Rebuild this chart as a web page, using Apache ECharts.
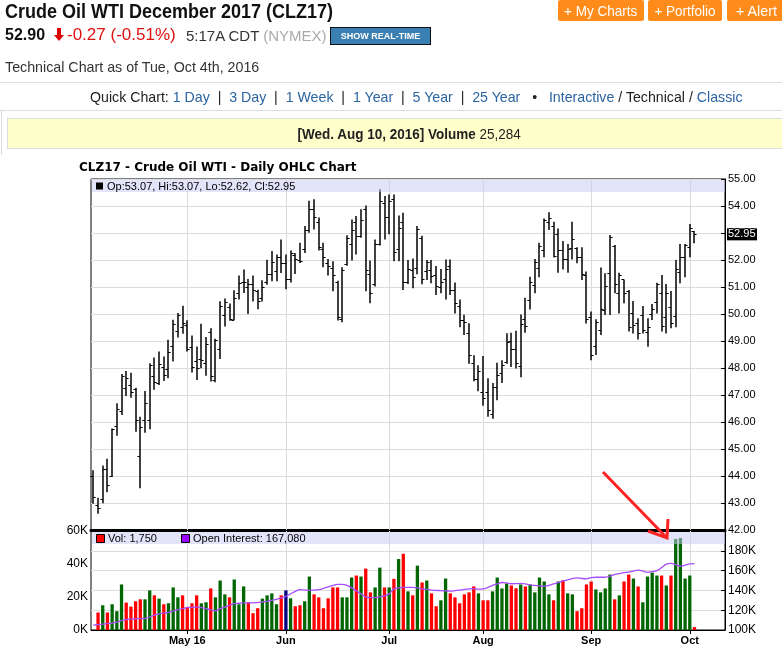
<!DOCTYPE html>
<html><head><meta charset="utf-8">
<script src="https://cdn.jsdelivr.net/npm/echarts@6/dist/echarts.min.js"></script>
<style>
html,body{margin:0;padding:0;width:782px;height:649px;overflow:hidden;background:#fff;}
#chart{position:absolute;left:0;top:0;width:782px;height:649px;z-index:1;}
.abs{position:absolute;white-space:nowrap;z-index:2;font-family:"Liberation Sans",Arial,sans-serif;}
.btn{position:absolute;top:0;height:21px;background:#ff8c1a;color:#fff;font-size:15px;line-height:21px;text-align:center;border-radius:2px;}
.sq{display:inline-block;transform-origin:center;}
a{color:#2a64a0;text-decoration:none;}
</style></head><body>
<div id="chart"></div>

<div class="abs" style="left:5px;top:0px;font-weight:bold;font-size:20px;color:#111;transform:scaleX(0.9);transform-origin:left;">Crude Oil WTI December 2017 (CLZ17)</div>
<div class="abs btn" style="left:558px;width:86px;"><span class="sq" style="transform:scaleX(0.9);">+ My Charts</span></div>
<div class="abs btn" style="left:648px;width:74px;"><span class="sq" style="transform:scaleX(0.9);">+ Portfolio</span></div>
<div class="abs btn" style="left:727px;width:58px;"><span class="sq" style="transform:scaleX(0.95);">+ Alert</span></div>

<div class="abs" style="left:5px;top:26px;font-weight:bold;font-size:16px;color:#111;">52.90</div>
<div class="abs" style="left:57px;top:28px;width:4px;height:7px;background:#d00;"></div>
<div class="abs" style="left:54px;top:35px;width:0;height:0;border-left:5px solid transparent;border-right:5px solid transparent;border-top:6px solid #d00;"></div>
<div class="abs" style="left:67px;top:25px;font-size:17px;color:#e01010;">-0.27 (-0.51%)</div>
<div class="abs" style="left:186px;top:27px;font-size:15px;color:#333;">5:17A CDT <span style="color:#aaa;">(NYMEX)</span> -</div>
<div class="abs" style="left:330px;top:27px;width:99px;height:16px;background:#3b80b3;border:1px solid #111;color:#fff;font-weight:bold;font-size:9px;line-height:16px;text-align:center;">SHOW REAL-TIME</div>

<div class="abs" style="left:5px;top:58px;font-size:15px;color:#333;transform:scaleX(0.95);transform-origin:left;">Technical Chart as of Tue, Oct 4th, 2016</div>
<div class="abs" style="left:0;top:82px;width:782px;height:1px;background:#ddd;"></div>
<div class="abs" style="left:90px;top:88px;font-size:15px;color:#222;transform:scaleX(0.945);transform-origin:left;">Quick Chart: <a>1 Day</a> &nbsp;|&nbsp; <a>3 Day</a> &nbsp;|&nbsp; <a>1 Week</a> &nbsp;|&nbsp; <a>1 Year</a> &nbsp;|&nbsp; <a>5 Year</a> &nbsp;|&nbsp; <a>25 Year</a> &nbsp; • &nbsp; <a>Interactive</a> / Technical / <a>Classic</a></div>
<div class="abs" style="left:0;top:110px;width:782px;height:1px;background:#ddd;"></div>
<div class="abs" style="left:1px;top:110px;width:1px;height:45px;background:#ddd;"></div>
<div class="abs" style="left:7px;top:118px;width:803px;height:29px;background:#ffffcc;border:1px solid #ddd;font-size:15px;line-height:29px;text-align:center;color:#222;"><span class="sq" style="transform:scaleX(0.9);"><b>[Wed. Aug 10, 2016] Volume</b> 25,284</span></div>

<script>
// ---------- categories (trading days) ----------
const aprDays = [4,5,6,7,8,11,12,13,14,15,18,19,20,21,22,25,26,27,28,29];
const mayDays = [2,3,4,5,6,9,10,11,12,13,16,17,18,19,20,23,24,25,26,27,31];
const junDays = [1,2,3,6,7,8,9,10,13,14,15,16,17,20,21,22,23,24,27,28,29,30];
const julDays = [1,5,6,7,8,11,12,13,14,15,18,19,20,21,22,25,26,27,28,29];
const augDays = [1,2,3,4,5,8,9,10,11,12,15,16,17,18,19,22,23,24,25,26,29,30,31];
const sepDays = [1,2,6,7,8,9,12,13,14,15,16,19,20,21,22,23,26,27,28,29,30];
const octDays = [3,4];
const monthNames = ['Apr','May','Jun','Jul','Aug','Sep','Oct'];
const padCount = 6;

// ---------- x tick labels ----------
const monthTickDates = ['May 2','Jun 1','Jul 1','Aug 1','Sep 1','Oct 3'];
const monthTickLabels = ['May 16','Jun','Jul','Aug','Sep','Oct'];

// ---------- price OHLC ----------
const opens = [44.01,42.93,43.15,44.25,43.99,45.85,46.40,47.27,47.37,47.22,44.75,46.09,46.06,47.72,47.46,48.03,47.97,48.80,49.38,49.52,49.61,48.77,48.27,48.34,48.18,49.33,47.55,48.71,49.98,50.26,49.79,50.78,51.18,
51.0,51.1,50.85,50.6,51.2,51.5,
51.6,52.1,51.9,51.3,52.2,52.0,52.4,53.1,53.9,53.4,
52.4,51.9,51.7,51.2,49.8,51.85,52.6,53.4,52.9,53.9,
51.5,51.1,52.6,54.12,53.6,54.25,52.4,53.42,51.2,51.63,
51.69,52.8,51.6,51.63,51.44,51.0,51.3,51.79,50.89,50.31,
49.79,49.31,48.2,47.6,47.12,47.12,46.3,47.3,47.8,48.22,
49.0,48.72,48.06,49.8,50.52,51.07,51.72,52.37,53.42,53.26,
52.96,52.37,52.02,52.45,52.43,52.12,51.44,49.9,48.8,49.41,
50.15,51.51,52.52,50.77,51.28,50.86,50.02,49.65,49.96,49.35,
50.0,50.46,50.79,49.88,50.25,49.94,51.57,52.1,52.47,53.07];
const highs = [44.21,43.19,44.39,44.64,45.76,46.69,47.78,47.89,47.82,47.27,46.19,47.15,48.18,48.39,48.61,48.43,49.05,49.79,50.04,50.31,49.77,49.20,48.80,49.64,49.15,49.47,49.08,50.47,50.57,50.39,50.88,51.43,51.65,
51.3,51.43,50.9,51.25,52.01,52.33,
52.2,52.76,52.2,52.35,52.26,52.64,53.26,54.19,54.25,53.57,
52.64,52.04,51.95,51.23,51.73,52.92,53.5,53.63,53.88,54.02,
51.98,52.76,54.62,54.37,54.43,54.43,53.65,53.75,52.0,52.06,
53.26,52.9,52.0,52.0,51.78,51.67,52.02,52.02,51.17,50.54,
49.97,49.66,48.47,48.1,48.44,47.62,47.44,48.19,48.29,49.29,
49.31,49.38,49.98,50.6,51.38,52.04,52.64,53.54,53.77,53.42,
53.17,52.7,52.59,53.42,52.47,52.47,51.57,50.09,49.81,51.72,
51.51,52.93,52.56,51.53,51.28,50.89,50.48,49.84,50.3,49.84,
50.37,51.16,51.44,51.11,50.85,52.0,52.59,52.59,53.33,53.07];
const lows = [42.97,42.60,42.99,43.40,43.96,45.49,46.26,46.96,46.90,45.64,43.55,45.60,45.73,47.19,47.37,47.52,47.62,48.24,49.13,49.27,48.61,47.83,47.56,47.99,47.71,47.50,47.47,48.33,49.54,49.75,49.77,50.54,50.78,
50.0,50.46,50.18,50.46,51.08,51.21,
51.21,51.52,50.92,51.17,51.48,51.89,52.26,53.01,53.13,52.35,
51.73,51.43,50.84,49.76,49.69,51.79,51.98,52.2,52.82,50.84,
50.4,51.02,52.54,52.76,52.95,51.95,51.95,50.89,51.11,50.95,
51.47,51.1,51.26,51.14,50.7,50.77,50.54,50.7,50.02,49.51,
49.22,48.16,47.51,47.14,46.6,46.19,46.12,46.81,47.44,48.16,
48.04,47.98,47.66,49.31,50.17,50.77,51.36,52.1,53.11,52.09,
51.53,51.65,51.53,52.02,51.88,51.26,49.65,48.29,48.48,49.22,
49.96,49.96,50.77,50.02,50.4,49.35,49.28,49.06,49.28,48.79,
49.78,50.02,49.35,49.28,49.47,49.51,51.14,51.36,52.1,52.62];
const closes = [43.24,42.82,44.27,43.67,45.73,46.50,47.71,47.62,47.10,46.09,45.82,46.69,48.12,47.47,48.14,47.73,48.59,49.63,49.98,49.67,48.72,48.05,47.99,48.30,48.89,47.71,49.03,50.29,50.45,49.82,50.60,51.16,51.19,
51.1,50.9,50.5,51.0,51.5,51.93,
52.1,51.9,51.3,52.25,52.05,51.95,53.1,53.9,53.6,52.5,
52.1,51.77,51.45,49.9,51.64,52.8,53.1,52.9,53.5,51.64,
50.77,52.6,54.2,53.6,54.2,52.3,53.2,51.2,51.65,51.38,
53.15,51.3,51.94,51.42,51.04,51.2,51.65,50.89,50.4,49.78,
49.7,48.47,47.6,47.9,46.89,46.46,47.3,47.75,48.1,48.97,
48.69,48.2,49.63,49.55,51.2,51.94,52.52,53.48,53.54,52.15,
52.37,52.02,52.4,52.77,52.1,51.5,49.81,48.48,49.7,50.17,
51.04,52.84,51.11,51.44,50.77,49.53,49.59,49.31,49.4,49.51,
50.2,51.11,49.56,50.79,49.68,51.65,52.12,52.56,53.17,52.95];

// ---------- volume ----------
const volumes = [null,10600,15000,10600,15600,11400,27600,16600,14200,17400,18600,18600,24000,21000,19000,15600,16200,25800,19800,21000,14000,16200,21000,16200,16800,25200,19800,30000,21600,19800,30600,15600,26400,
16800,10200,13200,19000,21000,22200,
15600,21000,24000,19200,14400,15000,17400,32400,21600,19800,
13200,19200,25800,25800,19800,19800,31800,33000,32400,37200,
22800,25800,37800,25800,25800,31000,43000,46200,23400,21000,
39000,28800,30000,22200,14400,18000,31200,22200,19800,16200,
21600,22800,26400,22200,18000,18000,23400,31800,25200,28200,
27000,25284,27600,26400,27600,22800,31800,29400,21600,18000,
29400,30000,22200,21600,11400,13200,27600,29400,24600,22800,
25200,33600,18600,21000,29400,33600,31200,26400,16800,32400,
34800,33000,33000,27000,33000,55200,55800,31200,33000,1750];
// u = up (green), d = down (red), s = selected (navy)
const volDir = ['d','d','u','d','u','u','u','d','d','d','d','u','u','d','u','d','u','u','u','d','d','d','d','u','u','d','u','u','u','d','u','u','u',
'd','d','d','u','u','u',
'u','d','s','u','d','d','u','u','d','d',
'd','d','d','d','u','u','u','d','u','d',
'd','u','u','d','u','d','u','d','u','d',
'u','d','u','d','d','u','u','d','d','d',
'd','d','d','u','d','d','u','u','u','u',
'd','d','u','d','u','u','u','u','u','d',
'u','d','u','u','d','d','d','d','u','u',
'u','u','d','u','d','d','u','d','u','u',
'u','u','d','u','d','u','u','u','u','d'];

// ---------- open interest (thousands) ----------
const openInterestK = [105,105.5,106,106.5,107,108,109.5,110.5,111,111.3,111.5,111.7,113,115,116.3,117,117.8,119,120.5,121.7,122.7,123,123.3,122.7,121.7,120.3,119.5,121.5,123,125,126.7,127,127.3,
127.3,127.5,127.7,128.3,129,130,
131,132.5,134,136.5,139,140.7,140.3,140,140.3,140.7,
142,143.5,145,146,146,145,142.5,139.5,136.5,133.5,
132.7,132.7,133.5,134.5,136.5,141.5,142.5,143,143,143,
142.5,141.5,141,140.3,140,139.7,139.5,139.3,139.7,140.3,
141,141.5,141.7,141.3,141.5,143,145,146.5,148,147.5,
146.7,146.8,147,146.5,145.5,145,144.5,144,145,146.7,
148,149.5,150.7,152,152.7,152,151.7,153,153.3,153.3,
153.3,154.5,156,157,158,158.5,159.5,160.5,159.5,158.3,
159,160,163,166.5,167.3,166,164.5,165.5,166.7,167.08];

// ---------- build ----------
const categories = [];
[aprDays,mayDays,junDays,julDays,augDays,sepDays,octDays].forEach((days,m)=>days.forEach(d=>categories.push(monthNames[m]+' '+d)));
const nBars = categories.length;
for (let i=0;i<padCount;i++) categories.push('pad'+i);
const monthTickIndex = monthTickDates.map(d=>categories.indexOf(d));
const tickLabelByIndex = {};
monthTickIndex.forEach((idx,k)=>{ tickLabelByIndex[idx]=monthTickLabels[k]; });
const ohlc = opens.map((o,i)=>[i,o,highs[i],lows[i],closes[i]]);
const volColor = {u:'#006600', d:'#ff0000', s:'#000080'};
const volData = volumes.map((v,i)=>({value:v, itemStyle:{color:volColor[volDir[i]]}}));
const oiData = openInterestK.map(v=>Math.round(v*1000));

const AX_FONT = "'Liberation Sans', Arial, sans-serif";
const GRID_C = '#dcdcdc';
const fmtNum = n => n.toLocaleString('en-US');
const last = nBars-1;

const chart = echarts.init(document.getElementById('chart'), null, {renderer:'canvas'});
const monthLineData = monthTickIndex.map(i=>({xAxis:i}));
const mkLine = {silent:true, symbol:['none','none'], label:{show:false}, z:1, animation:false,
  lineStyle:{color:GRID_C, type:'solid', width:1}, emphasis:{disabled:true}, data:monthLineData};

const option = {
  animation:false,
  title:{text:'CLZ17 - Crude Oil WTI - Daily OHLC Chart', left:77, top:160, padding:[2,2],
    textStyle:{fontFamily:"'DejaVu Sans', Verdana, sans-serif", fontSize:12, fontWeight:'bold', color:'#000'}},
  grid:[
    {left:91, top:179, width:634, height:351, show:true, borderColor:'#000', borderWidth:1, backgroundColor:'transparent'},
    {left:91, top:531, width:634, height:99, show:true, borderColor:'#000', borderWidth:1, backgroundColor:'transparent'}
  ],
  xAxis:[
    {type:'category', gridIndex:0, data:categories, boundaryGap:true,
     axisLine:{show:true, onZero:false, lineStyle:{color:'#000', width:3}},
     axisTick:{show:false}, axisLabel:{show:false}, splitLine:{show:false}},
    {type:'category', gridIndex:1, data:categories, boundaryGap:true,
     axisLine:{show:true, onZero:false, lineStyle:{color:'#000', width:1}},
     axisTick:{show:true, alignWithLabel:true, length:4, lineStyle:{color:'#000'},
       interval:(idx)=>tickLabelByIndex[idx]!==undefined},
     axisLabel:{show:true, interval:(idx)=>tickLabelByIndex[idx]!==undefined,
       formatter:(v,idx)=>tickLabelByIndex[idx]||'', fontFamily:AX_FONT, fontSize:11, fontWeight:'bold', color:'#000', margin:5},
     splitLine:{show:false}}
  ],
  yAxis:[
    {type:'value', gridIndex:0, position:'right', min:42, max:55, interval:1,
     axisLine:{show:true, lineStyle:{color:'#000'}},
     axisTick:{show:true, inside:true, length:4, lineStyle:{color:'#000'}},
     axisLabel:{formatter:v=>v.toFixed(2), fontFamily:AX_FONT, fontSize:11, color:'#000', margin:3},
     splitLine:{show:true, lineStyle:{color:GRID_C, width:1}}},
    {type:'value', gridIndex:1, position:'left', min:0, max:60000, interval:20000,
     axisLine:{show:false}, axisTick:{show:false},
     axisLabel:{formatter:v=>(v/1000)+'K', fontFamily:AX_FONT, fontSize:12, color:'#000', margin:3},
     splitLine:{show:false}},
    {type:'value', gridIndex:1, position:'right', min:100000, max:200000, interval:20000,
     axisLine:{show:true, lineStyle:{color:'#000'}},
     axisTick:{show:true, inside:true, length:4, lineStyle:{color:'#000'}},
     axisLabel:{formatter:v=>v>=200000?'':(v/1000)+'K', fontFamily:AX_FONT, fontSize:12, color:'#000', margin:3},
     splitLine:{show:true, lineStyle:{color:GRID_C, width:1}}}
  ],
  series:[
    {type:'custom', name:'OHLC', xAxisIndex:0, yAxisIndex:0, z:5,
     encode:{x:0, y:[1,2,3,4]},
     renderItem:function(params, api){
       const i = api.value(0);
       const pH = api.coord([i, api.value(2)]);
       const pL = api.coord([i, api.value(3)]);
       const pO = api.coord([i, api.value(1)]);
       const pC = api.coord([i, api.value(4)]);
       const x = Math.round(pH[0]);
       return {type:'group', children:[
         {type:'line', shape:{x1:x, y1:pH[1], x2:x, y2:pL[1]}, style:{stroke:'#000', lineWidth:1.5}},
         {type:'line', shape:{x1:x-2.6, y1:Math.round(pO[1])+0.5, x2:x, y2:Math.round(pO[1])+0.5}, style:{stroke:'#000', lineWidth:1}},
         {type:'line', shape:{x1:x, y1:Math.round(pC[1])+0.5, x2:x+2.6, y2:Math.round(pC[1])+0.5}, style:{stroke:'#000', lineWidth:1}}
       ]};
     },
     data:ohlc, markLine:mkLine},
    {type:'bar', name:'Vol', xAxisIndex:1, yAxisIndex:1, barWidth:3.3, z:3, data:volData, markLine:mkLine},
    {type:'line', name:'Open Interest', xAxisIndex:1, yAxisIndex:2, z:4, data:oiData,
     showSymbol:false, symbol:'none', smooth:0.35, lineStyle:{color:'#a64dff', width:1.3}}
  ],
  graphic:[]
};
chart.setOption(option);

// overlay bands, legends, last-price marker, annotation
const priceRect = chart.getModel().getComponent('grid',0).coordinateSystem.getRect();
const volRect = chart.getModel().getComponent('grid',1).coordinateSystem.getRect();
const lastY = chart.convertToPixel({yAxisIndex:0}, closes[last]);
const txt = (x,y,t,opt)=>Object.assign({type:'text', z:110, x:x, y:y,
  style:Object.assign({text:t, fill:'#000', font:'11px '+AX_FONT, textVerticalAlign:'middle'}, opt||{})});
const g = [
  {type:'rect', z:100, shape:{x:priceRect.x+1, y:priceRect.y+1, width:priceRect.width-1, height:12}, style:{fill:'rgba(200,200,246,0.5)'}},
  {type:'rect', z:110, shape:{x:96, y:priceRect.y+3.5, width:7, height:7}, style:{fill:'#000'}},
  txt(107, priceRect.y+7.5, 'Op:'+opens[last].toFixed(2)+', Hi:'+highs[last].toFixed(2)+', Lo:'+lows[last].toFixed(2)+', Cl:'+closes[last].toFixed(2)),
  {type:'rect', z:100, shape:{x:volRect.x+1, y:volRect.y+1, width:volRect.width-1, height:12}, style:{fill:'rgba(200,200,246,0.5)'}},
  {type:'rect', z:110, shape:{x:96.5, y:volRect.y+3.5, width:8, height:8}, style:{fill:'#ff0000', stroke:'#000', lineWidth:1}},
  txt(108, volRect.y+8, 'Vol: '+fmtNum(volumes[last])),
  {type:'rect', z:110, shape:{x:181.5, y:volRect.y+3.5, width:8, height:8}, style:{fill:'#9900ff', stroke:'#000', lineWidth:1}},
  txt(193, volRect.y+8, 'Open Interest: '+fmtNum(oiData[last])),
  {type:'rect', z:110, shape:{x:727, y:lastY-6, width:30, height:12}, style:{fill:'#000'}},
  txt(728, lastY, closes[last].toFixed(2), {fill:'#fff'}),
  {type:'polyline', z:120, shape:{points:[[603,472],[666,537]]}, style:{stroke:'#ff2222', lineWidth:3, fill:null}},
  {type:'polyline', z:120, shape:{points:[[648,531],[667,538],[668,519]]}, style:{stroke:'#ff2222', lineWidth:3, fill:null}}
];
chart.setOption({graphic:g});
</script>
</body></html>
